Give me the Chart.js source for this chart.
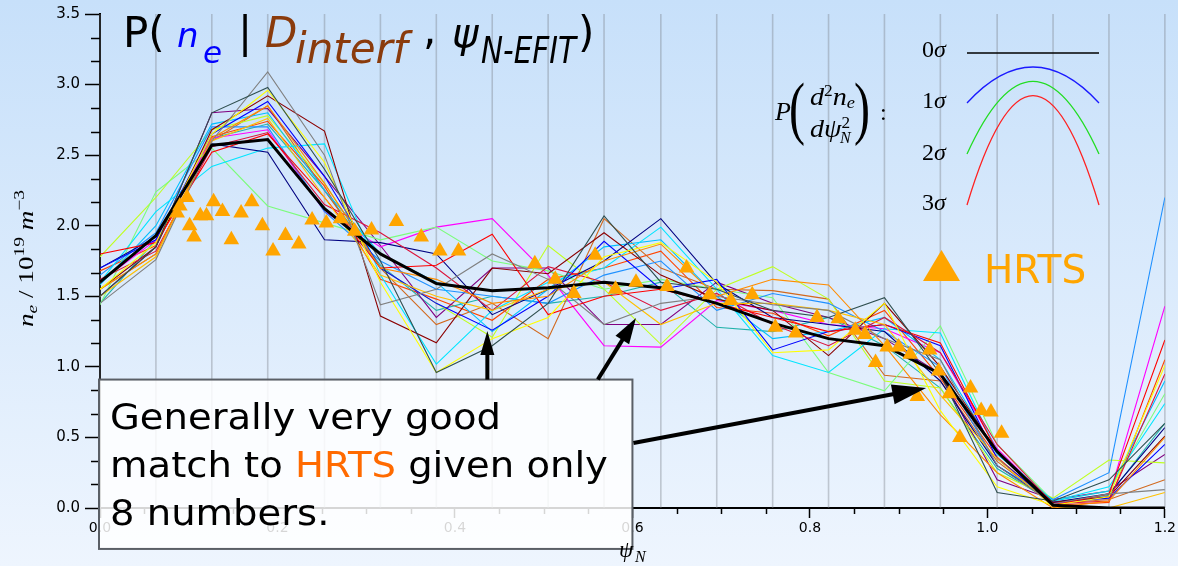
<!DOCTYPE html>
<html>
<head>
<meta charset="utf-8">
<script src="https://cdn.jsdelivr.net/npm/chart.js@4.4.1/dist/chart.umd.min.js"></script>
<style>
    html, body { margin: 0; padding: 0; }
    body {
        width: 1178px;
        height: 566px;
        overflow: hidden;
        background: linear-gradient(to bottom, #c7e0fa 0%, #eef5fe 100%);
    }
    canvas { display: block; }
</style>
</head>
<body>
<canvas id="chart" width="1178" height="566"></canvas>
<script>
// knot positions in psi_N (the grey vertical lines)
const knots = [0.000, 0.063, 0.126, 0.189, 0.253, 0.316, 0.379, 0.442, 0.505, 0.568,
               0.632, 0.695, 0.758, 0.821, 0.884, 0.947, 1.011, 1.074, 1.137, 1.200];

// posterior mean profile (thick black)
const meanProfile = [1.60, 1.93, 2.57, 2.61, 2.12, 1.80, 1.59, 1.54, 1.56, 1.60,
                     1.56, 1.45, 1.31, 1.20, 1.15, 0.95, 0.40, 0.02, 0.00, 0.00];

// HRTS measurements (orange triangles)
const hrtsPsi = [0.087, 0.090, 0.098, 0.101, 0.106, 0.113, 0.120, 0.128, 0.138, 0.148,
                 0.159, 0.171, 0.183, 0.195, 0.209, 0.224, 0.239, 0.255, 0.271, 0.287,
                 0.306, 0.334, 0.362, 0.383, 0.404, 0.490, 0.513, 0.534, 0.558, 0.581,
                 0.604, 0.639, 0.661, 0.687, 0.711, 0.735, 0.761, 0.784, 0.808, 0.832,
                 0.851, 0.862, 0.874, 0.887, 0.900, 0.913, 0.921, 0.935, 0.945, 0.957,
                 0.969, 0.981, 0.993, 1.004, 1.016];
const hrtsNe = [2.09, 2.14, 2.20, 2.00, 1.92, 2.07, 2.07, 2.17, 2.10, 1.90,
                2.09, 2.17, 2.00, 1.82, 1.93, 1.87, 2.04, 2.02, 2.05, 1.96,
                1.97, 2.03, 1.92, 1.82, 1.82, 1.73, 1.62, 1.52, 1.79, 1.55,
                1.60, 1.57, 1.70, 1.51, 1.47, 1.51, 1.28, 1.24, 1.35, 1.34,
                1.26, 1.23, 1.03, 1.14, 1.14, 1.09, 0.79, 1.12, 0.97, 0.81,
                0.50, 0.85, 0.69, 0.68, 0.53];

// posterior samples (thin coloured lines)
const s01 = [1.50, 1.85, 2.80, 2.98, 2.40, 1.75, 0.96, 1.15, 1.45, 2.07, 1.60, 1.55, 1.40, 1.35, 1.49, 0.95, 0.11, 0.05, 0.20, 0.60];
const s02 = [1.45, 1.76, 2.60, 3.09, 2.50, 1.44, 1.55, 1.80, 1.62, 1.30, 1.45, 1.50, 1.44, 1.40, 1.20, 1.05, 0.30, 0.03, 0.10, 0.13];
const s03 = [1.55, 1.88, 2.65, 2.96, 2.45, 1.60, 0.96, 1.20, 1.35, 1.78, 1.88, 1.60, 1.10, 1.12, 1.45, 0.69, 0.15, 0.02, 0.08, 1.01];
const s04 = [1.55, 1.80, 2.62, 2.85, 2.30, 1.70, 1.62, 1.45, 1.50, 1.75, 1.87, 1.50, 1.62, 1.58, 1.15, 0.66, 0.25, 0.00, 0.05, 0.50];
const s05 = [1.50, 1.78, 2.60, 2.76, 2.20, 1.65, 1.50, 1.40, 1.55, 1.60, 1.30, 1.45, 1.45, 1.40, 1.30, 0.80, 0.35, 0.01, 0.00, 0.11];
const s06 = [1.80, 1.88, 2.52, 2.65, 2.20, 1.70, 1.72, 1.94, 1.37, 1.50, 1.55, 1.45, 1.35, 1.25, 1.30, 1.17, 0.40, 0.02, 0.10, 1.19];
const s07 = [1.62, 1.82, 2.56, 2.66, 2.15, 1.95, 1.70, 1.40, 1.71, 1.60, 1.40, 1.52, 1.30, 1.15, 1.35, 1.10, 0.45, 0.03, 0.05, 0.95];
const s08 = [1.55, 1.85, 2.68, 2.92, 2.67, 1.36, 1.17, 1.70, 1.66, 1.95, 1.65, 1.48, 1.40, 1.08, 1.45, 1.00, 0.40, 0.04, 0.08, 0.51];
const s09 = [1.70, 1.90, 2.65, 2.88, 2.35, 1.70, 1.45, 1.26, 1.50, 1.89, 1.55, 1.62, 1.12, 1.25, 1.30, 1.15, 0.35, 0.04, 0.07, 0.45];
const s10 = [1.70, 1.92, 2.58, 2.52, 1.90, 1.88, 1.80, 1.37, 1.55, 1.75, 2.05, 1.59, 1.35, 1.30, 1.25, 0.90, 0.30, 0.04, 0.10, 0.57];
const s11 = [1.60, 2.10, 2.42, 2.55, 2.58, 1.65, 1.02, 1.40, 1.60, 1.70, 1.99, 1.55, 1.08, 0.96, 1.27, 1.24, 0.40, 0.05, 0.15, 0.74];
const s12 = [1.58, 2.00, 2.72, 2.80, 2.25, 1.80, 1.60, 1.25, 1.55, 1.85, 1.90, 1.50, 1.20, 1.25, 1.35, 1.05, 0.38, 0.05, 0.12, 0.90];
const s13 = [1.65, 1.95, 2.70, 2.70, 2.10, 1.75, 1.55, 1.50, 1.45, 1.65, 1.75, 1.40, 1.52, 1.45, 1.25, 1.00, 0.30, 0.06, 0.25, 2.20];
const s14 = [1.44, 2.24, 2.55, 2.14, 2.02, 1.90, 1.99, 1.75, 1.68, 1.55, 1.62, 1.55, 1.49, 0.96, 0.83, 1.29, 0.45, 0.05, 0.12, 0.81];
const s15 = [1.78, 2.20, 2.68, 2.78, 2.30, 1.70, 1.45, 1.21, 1.86, 1.55, 1.16, 1.55, 1.71, 1.48, 0.90, 0.85, 0.25, 0.07, 0.34, 0.32];
const s16 = [1.60, 1.90, 2.62, 2.68, 2.10, 1.85, 1.99, 2.05, 1.65, 1.15, 1.14, 1.47, 1.40, 1.30, 1.27, 1.10, 0.42, 0.03, 0.08, 1.43];
const s17 = [1.50, 1.85, 2.80, 2.83, 2.35, 1.86, 1.35, 1.70, 1.70, 1.30, 1.30, 1.60, 1.45, 1.35, 1.20, 0.95, 0.20, 0.06, 0.12, 0.38];
const s18 = [1.55, 1.80, 2.60, 2.85, 2.25, 1.70, 1.30, 1.45, 1.20, 2.05, 1.70, 1.55, 1.54, 1.48, 0.94, 0.90, 0.33, 0.03, 0.06, 0.20];
const s19 = [1.45, 1.90, 2.62, 2.72, 2.25, 1.72, 1.40, 1.50, 1.45, 1.50, 1.60, 1.28, 1.25, 1.35, 1.15, 0.85, 0.28, 0.04, 0.09, 0.60];
const s20 = [1.68, 1.86, 2.63, 2.74, 2.28, 1.62, 1.48, 1.33, 1.62, 1.70, 1.82, 1.42, 1.38, 1.22, 1.40, 0.92, 0.36, 0.02, 0.04, 1.05];

const sampleProfiles = [s01, s02, s03, s04, s05, s06, s07, s08, s09, s10,
                        s11, s12, s13, s14, s15, s16, s17, s18, s19, s20];
const sampleColors = ['#2f4f4f', '#808080', '#ffff00', '#ff8c00', '#ffc000', '#ff0000', '#dc143c',
                      '#8b0000', '#0000ff', '#000080', '#00e5ff', '#00bfff', '#1e90ff', '#7cfc7c',
                      '#c0ff20', '#ff00ff', '#800080', '#d2691e', '#20b2aa', '#ff4500'];

const toPoints = vals => vals.map((v, i) => ({ x: knots[i], y: v }));

// text helper: draw a string, optionally squeezed to a max width
function put(ctx, text, font, color, x, y, maxW) {
    ctx.font = font;
    ctx.fillStyle = color;
    if (maxW) ctx.fillText(text, x, y, maxW);
    else ctx.fillText(text, x, y);
}

// runs of rich text, returns total width
function drawRuns(ctx, runs, x, y, measureOnly) {
    let cx = x;
    runs.forEach(r => {
        ctx.font = r.font;
        ctx.fillStyle = r.color || '#000';
        if (!measureOnly) ctx.fillText(r.text, cx, y + (r.dy || 0));
        cx += ctx.measureText(r.text).width;
    });
    return cx - x;
}

function arrow(ctx, x0, y0, x1, y1, headLen, headW, lineW) {
    const ang = Math.atan2(y1 - y0, x1 - x0);
    const bx = x1 - Math.cos(ang) * headLen;
    const by = y1 - Math.sin(ang) * headLen;
    ctx.save();
    ctx.strokeStyle = '#000';
    ctx.fillStyle = '#000';
    ctx.lineWidth = lineW;
    ctx.beginPath();
    ctx.moveTo(x0, y0);
    ctx.lineTo(bx + Math.cos(ang) * 4, by + Math.sin(ang) * 4);
    ctx.stroke();
    ctx.beginPath();
    ctx.moveTo(x1, y1);
    ctx.lineTo(bx + Math.sin(ang) * headW / 2, by - Math.cos(ang) * headW / 2);
    ctx.lineTo(bx - Math.sin(ang) * headW / 2, by + Math.cos(ang) * headW / 2);
    ctx.closePath();
    ctx.fill();
    ctx.restore();
}

const serif = '"Liberation Serif", "DejaVu Serif", serif';
const sans = '"DejaVu Sans", sans-serif';

const decor = {
    id: 'decor',
    beforeDatasetsDraw(chart) {
        const { ctx, chartArea: a, scales: { x } } = chart;
        ctx.save();
        ctx.strokeStyle = 'rgba(120, 125, 135, 0.38)';
        ctx.lineWidth = 1.6;
        knots.forEach(k => {
            const px = x.getPixelForValue(k);
            ctx.beginPath();
            ctx.moveTo(px, a.top);
            ctx.lineTo(px, a.bottom);
            ctx.stroke();
        });
        ctx.restore();
    },
    afterDraw(chart) {
        const { ctx, chartArea: a, scales: { x, y } } = chart;
        ctx.save();

        // minor ticks
        ctx.strokeStyle = '#000';
        ctx.lineWidth = 1.5;
        for (let i = 0; i <= 21; i++) {
            if (i % 3 === 0) continue;
            const py = Math.round(y.getPixelForValue(i / 6)) + 0.5;
            ctx.beginPath();
            ctx.moveTo(a.left, py);
            ctx.lineTo(a.left - 9, py);
            ctx.stroke();
        }
        for (let i = 0; i <= 24; i++) {
            if (i % 4 === 0) continue;
            const px = Math.round(x.getPixelForValue(i * 0.05)) + 0.5;
            ctx.beginPath();
            ctx.moveTo(px, a.bottom);
            ctx.lineTo(px, a.bottom + 6);
            ctx.stroke();
        }

        // annotation box
        const bx0 = x.getPixelForValue(0) - 1, bx1 = x.getPixelForValue(0.6);
        const by0 = y.getPixelForValue(0.91), by1 = y.getPixelForValue(-0.29);
        ctx.fillStyle = 'rgba(255, 255, 255, 0.84)';
        ctx.fillRect(bx0, by0, bx1 - bx0, by1 - by0);
        ctx.strokeStyle = '#5a5f66';
        ctx.lineWidth = 2;
        ctx.strokeRect(bx0, by0, bx1 - bx0, by1 - by0);

        // box text, slightly widened like the reference
        ctx.save();
        ctx.translate(bx0 + 11, 0);
        ctx.scale(1.07, 1);
        const bf = '36px ' + sans;
        put(ctx, 'Generally very good', bf, '#000', 0, by0 + 49);
        drawRuns(ctx, [
            { text: 'match to ', font: bf },
            { text: 'HRTS', font: bf, color: '#ff6a00' },
            { text: ' given only', font: bf }
        ], 0, by0 + 97.5);
        put(ctx, '8 numbers.', bf, '#000', 0, by0 + 145.5);
        ctx.restore();

        // arrows
        const P = (vx, vy) => [x.getPixelForValue(vx), y.getPixelForValue(vy)];
        let p0 = P(0.4365, 0.91), p1 = P(0.4365, 1.254);
        arrow(ctx, p0[0], p0[1], p1[0], p1[1], 24, 14, 4);
        p0 = P(0.561, 0.91); p1 = P(0.604, 1.347);
        arrow(ctx, p0[0], p0[1], p1[0], p1[1], 26, 16, 4);
        p0 = P(0.600, 0.46); p1 = P(0.931, 0.85);
        arrow(ctx, p0[0] + 1, p0[1], p1[0], p1[1], 34, 20, 4);

        // title
        put(ctx, 'P(', '42px ' + sans, '#000', 123, 47);
        put(ctx, 'n', 'italic 34px ' + sans, '#0000ff', 177, 47);
        put(ctx, 'e', 'italic 31px ' + sans, '#0000ff', 203, 63);
        put(ctx, '|', '42px ' + sans, '#000', 238, 47);
        put(ctx, 'D', 'italic 42px ' + sans, '#8a3b0c', 265, 47);
        put(ctx, 'interf', 'italic 42px ' + sans, '#8a3b0c', 295, 63);
        put(ctx, ',', '42px ' + sans, '#000', 423, 44);
        put(ctx, 'ψ', 'italic 40px ' + sans, '#000', 452, 47);
        put(ctx, 'N-EFIT', 'italic 38px ' + sans, '#000', 481, 63, 95);
        put(ctx, ')', '42px ' + sans, '#000', 578, 47);

        // prior legend: P(d2ne / dpsi2) :
        put(ctx, 'P', 'italic 26px ' + serif, '#000', 775, 120);
        put(ctx, '(', '69px ' + serif, '#000', 789, 131, 16);
        put(ctx, ')', '69px ' + serif, '#000', 854, 131, 16);
        ctx.save();
        ctx.translate(810, 0);
        const num = [
            { text: 'd', font: 'italic 26px ' + serif },
            { text: '2', font: '16px ' + serif, dy: -9 },
            { text: 'n', font: 'italic 26px ' + serif },
            { text: 'e', font: 'italic 17px ' + serif, dy: 3 }
        ];
        let w = drawRuns(ctx, num, 0, 0, true);
        ctx.save();
        ctx.scale(45 / w, 1);
        drawRuns(ctx, num, 0, 105);
        ctx.restore();
        const den = [
            { text: 'd', font: 'italic 26px ' + serif },
            { text: 'ψ', font: 'italic 26px ' + serif },
            { text: '2', font: '16px ' + serif, dy: -9 }
        ];
        w = drawRuns(ctx, den, 0, 0, true);
        ctx.save();
        ctx.scale(40 / w, 1);
        drawRuns(ctx, den, 0, 137);
        ctx.restore();
        put(ctx, 'N', 'italic 16px ' + serif, '#000', 30, 143);
        ctx.restore();
        put(ctx, ':', '24px ' + serif, '#000', 880, 120);

        // sigma labels and curves
        const sig = ['0', '1', '2', '3'];
        const sigBase = [57, 108, 160, 210];
        sig.forEach((s, i) => {
            drawRuns(ctx, [
                { text: s, font: '24px ' + serif },
                { text: 'σ', font: 'italic 24px ' + serif }
            ], 922, sigBase[i]);
        });
        ctx.lineWidth = 1.3;
        ctx.strokeStyle = '#000';
        ctx.beginPath();
        ctx.moveTo(967, 53);
        ctx.lineTo(1099, 53);
        ctx.stroke();
        [['#1a1aff', 103, 31], ['#22dd22', 154, 8.6], ['#ff2020', 205, -13.6]].forEach(c => {
            ctx.strokeStyle = c[0];
            ctx.beginPath();
            ctx.moveTo(967, c[1]);
            ctx.quadraticCurveTo(1033, c[2], 1099, c[1]);
            ctx.stroke();
        });

        // HRTS legend
        ctx.fillStyle = '#ffa500';
        ctx.beginPath();
        ctx.moveTo(923, 281);
        ctx.lineTo(960, 281);
        ctx.lineTo(941.5, 250);
        ctx.closePath();
        ctx.fill();
        put(ctx, 'HRTS', '39px ' + sans, '#ffa500', 984, 283);

        // axis titles
        put(ctx, 'ψ', 'italic 23px ' + serif, '#000', 619, 557);
        put(ctx, 'N', 'italic 16px ' + serif, '#000', 635, 562);

        const yl = [
            { text: 'n', font: 'italic 21px ' + serif },
            { text: 'e', font: 'italic 15px ' + serif, dy: 4 },
            { text: ' / 10', font: '21px ' + serif },
            { text: '19', font: '15px ' + serif, dy: -9 },
            { text: ' m', font: 'italic 21px ' + serif },
            { text: '−3', font: '15px ' + serif, dy: -9 }
        ];
        w = drawRuns(ctx, yl, 0, 0, true);
        ctx.save();
        ctx.translate(33, 327);
        ctx.rotate(-Math.PI / 2);
        ctx.scale(137 / w, 1);
        drawRuns(ctx, yl, 0, 0);
        ctx.restore();

        ctx.restore();
    }
};

const datasets = [];
datasets.push({
    type: 'scatter',
    label: 'HRTS',
    data: hrtsPsi.map((v, i) => ({ x: v, y: hrtsNe[i] })),
    pointStyle: 'triangle',
    pointRadius: 9,
    backgroundColor: '#ffa500',
    borderColor: '#ffa500',
    borderWidth: 0,
    order: 0
});
datasets.push({
    label: 'mean',
    data: toPoints(meanProfile),
    borderColor: '#000',
    borderWidth: 3,
    pointRadius: 0,
    tension: 0,
    order: 1
});
sampleProfiles.forEach((s, i) => {
    datasets.push({
        label: 'sample ' + (i + 1),
        data: toPoints(s),
        borderColor: sampleColors[i],
        borderWidth: 1.1,
        pointRadius: 0,
        tension: 0,
        order: 2
    });
});

new Chart(document.getElementById('chart'), {
    type: 'line',
    data: { datasets: datasets },
    options: {
        responsive: false,
        animation: false,
        devicePixelRatio: 1,
        layout: { padding: { left: 0, right: 12, top: 11, bottom: 0 } },
        plugins: {
            legend: { display: false },
            tooltip: { enabled: false },
            title: { display: false }
        },
        scales: {
            x: {
                type: 'linear',
                min: 0,
                max: 1.2,
                ticks: {
                    stepSize: 0.2,
                    color: '#000',
                    padding: 2,
                    maxRotation: 0,
                    autoSkip: false,
                    font: { family: 'DejaVu Sans', size: 14 },
                    callback: v => v.toFixed(1)
                },
                grid: { drawOnChartArea: false, tickLength: 10, tickColor: '#000', tickWidth: 1.5 },
                border: { color: '#000', width: 2 },
                afterFit: s => { s.height = 58; }
            },
            y: {
                min: 0,
                max: 3.5,
                ticks: {
                    stepSize: 0.5,
                    color: '#000',
                    padding: 5,
                    font: { family: 'DejaVu Sans', size: 15 },
                    callback: v => v.toFixed(1)
                },
                grid: { drawOnChartArea: false, tickLength: 15, tickColor: '#000', tickWidth: 1.5 },
                border: { color: '#000', width: 2 },
                afterFit: s => { s.width = 100; }
            }
        }
    },
    plugins: [decor]
});
</script>
</body>
</html>
